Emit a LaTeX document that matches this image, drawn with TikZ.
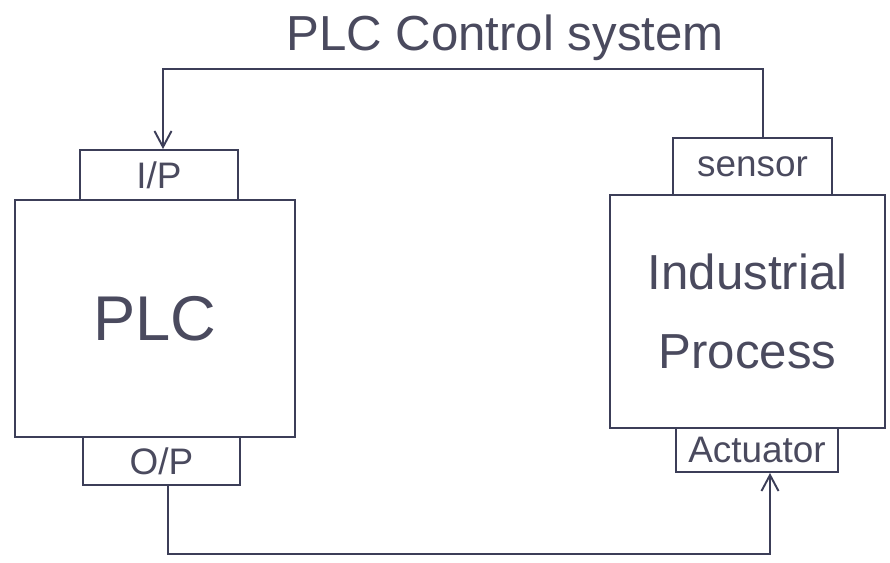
\documentclass[tikz,border=0pt]{standalone}
\usepackage{fontspec}
\setmainfont{Liberation Sans}
\usepackage{xcolor}
\usepackage{tikz}
\usetikzlibrary{arrows.meta,calc}
\definecolor{inkline}{HTML}{3C3E58}
\definecolor{inktext}{HTML}{4A4A5E}

\begin{document}
\begin{tikzpicture}[
x=0.02cm,
y=-0.02cm,
every node/.style={text=inktext},
port/.style={rectangle,draw=inkline,line width=1.1pt,align=center,inner sep=0pt,font=\fontsize{21}{24}\selectfont},
unit/.style={rectangle,draw=inkline,line width=1.1pt,align=center,inner sep=0pt},
arr/.style={-{Straight Barb[length=3.2mm,width=3.4mm,line width=1.1pt]},draw=inkline,line width=1.1pt},
wire/.style={draw=inkline,line width=1.1pt}
]
\useasboundingbox (0,0) rectangle (890,562);
\node[font=\fontsize{28}{32}\selectfont] (title) at (505,38) {PLC Control system};

\node[unit,minimum width=5.6cm,minimum height=4.74cm,font=\fontsize{36}{40}\selectfont] (plcunit) at (155,318.5) {PLC};
\node[port,minimum width=3.16cm,minimum height=1.0cm] (ipport) at (159,175) {I/P};
\node[port,minimum width=3.14cm,minimum height=0.96cm] (opport) at (161.5,461) {O/P};

\node[unit,minimum width=5.5cm,minimum height=4.66cm,font=\fontsize{28}{45}\selectfont] (procunit) at (747.5,311.5) {Industrial\\Process};
\node[port,minimum width=3.18cm,minimum height=1.14cm] (sensorport) at (752.5,166.5) {sensor};
\node[port,minimum width=3.24cm,minimum height=0.88cm] (actport) at (757,450) {Actuator};

\draw[arr] ([xshift=0.21cm]sensorport.north) -- ++(0,-68) -| ([xshift=0.08cm]ipport.north);
\draw[arr] ([xshift=0.13cm]opport.south) -- ++(0,68) -| ([xshift=0.26cm]actport.south);
\end{tikzpicture}
\end{document}
